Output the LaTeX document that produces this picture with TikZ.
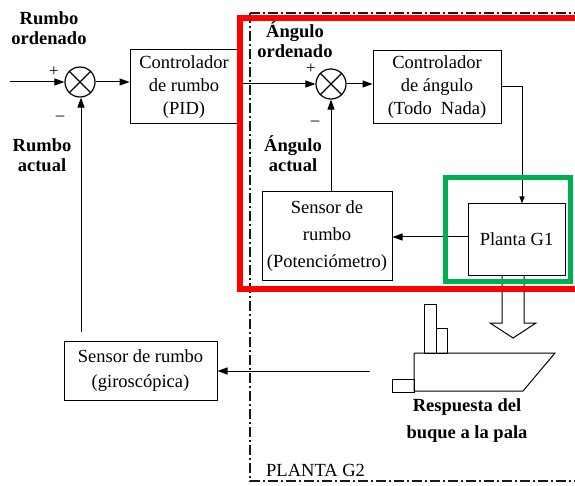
\documentclass[tikz,border=0pt]{standalone}
\usepackage{fontspec}
\setmainfont{Liberation Serif}
\newfontfamily\tnr[Ligatures=TeX]{Liberation Serif}
\usetikzlibrary{arrows.meta}
\begin{document}
\begin{tikzpicture}[x=1pt,y=-1pt,
  blk/.style={draw, line width=1pt, align=center, inner sep=0pt, font=\tnr\fontsize{18.5}{23}\selectfont},
  sumj/.style={draw, circle, line width=1.2pt, minimum size=30pt, inner sep=0pt},
  lbl/.style={font=\tnr\fontsize{18.5}{20}\bfseries\selectfont, align=center, inner sep=0pt},
  sgn/.style={font=\tnr\fontsize{17}{17}\selectfont, inner sep=0pt},
  wire/.style={line width=1pt},
  arr/.style={wire, -{Triangle[length=10pt,width=7pt]}},
  arrs/.style={wire, -{Triangle[length=7pt,width=5pt]}},
  dashdot/.style={line width=1.1pt, black!90, dash pattern=on 10pt off 3pt on 2pt off 3pt},
]
\useasboundingbox (0,0) rectangle (575,486);
\fill[white] (0,0) rectangle (575,486);

% plant G2 frame
\draw[dashdot] (250,13) -- (250,481) -- (590,481);
\draw[dashdot] (250,13) -- (590,13);
\node[anchor=west, font=\tnr\fontsize{18.5}{20}\selectfont, inner sep=0pt] (g2) at (266,470) {PLANTA G2};

% summing junctions
\node[sumj] (s1) at (80,82) {};
\draw[line width=1.2pt] (s1.45) -- (s1.225) (s1.135) -- (s1.315);
\node[sumj] (s2) at (331,84) {};
\draw[line width=1.2pt] (s2.45) -- (s2.225) (s2.135) -- (s2.315);

% blocks
\node[blk, minimum width=108pt, minimum height=74pt] (pid) at (184,87) {Controlador\\de rumbo\\(PID)};
\node[blk, minimum width=128pt, minimum height=73pt] (ctl) at (437,87.5) {Controlador\\de ángulo\\(Todo\enspace Nada)};
\node[blk, minimum width=97pt, minimum height=71pt] (pl) at (516.5,239.5) {Planta G1};
\node[blk, minimum width=130pt, minimum height=88pt, font=\tnr\fontsize{18.5}{27}\selectfont] (pot) at (327,236) {Sensor de\\rumbo\\(Potenciómetro)};
\node[blk, minimum width=153pt, minimum height=59pt, font=\tnr\fontsize{18.5}{25}\selectfont] (gyro) at (140.5,370.5) {Sensor de rumbo\\(giroscópica)};

% labels
\node[lbl] (ro) at (49,28) {Rumbo\\ordenado};
\node[lbl] (ra) at (42,155) {Rumbo\\actual};
\node[lbl] (ao) at (295,40) {Ángulo\\ordenado};
\node[lbl] (aa) at (293,154) {Ángulo\\actual};
\node[sgn] (p1) at (54,72) {+};
\node[sgn] (m1) at (60,118) {\textendash};
\node[sgn] (p2) at (311,69) {+};
\node[sgn] (m2) at (315,123) {\textendash};

% signal connections
\coordinate (in) at (10,82);
\draw[arr] (in) -- (s1.west);
\draw[arr] (s1.east) -- (s1 -| pid.west);
\draw[arr] (s2 -| pid.east) -- (s2.west);
\draw[arr] (s2.east) -- (s2 -| ctl.west);
\coordinate (cr) at (522,87);
\draw[arrs] (ctl.east |- cr) -- (cr) -- (cr |- pl.north);
\coordinate (pw) at (468,237);
\draw[arr] (pw) -- (pw -| pot.east);
\draw[arr] (s2 |- pot.north) -- (s2.south);
\coordinate (fb) at (81,332);
\draw[arr] (fb) -- (fb |- s1.south);
\coordinate (sh) at (370,371);
\draw[arr] (sh) -- (sh -| gyro.east);

% hollow arrow from the plant to the ship
\draw[wire, line join=miter] (502,275) -- (502,323) -- (490,323) -- (513,338) -- (536,323) -- (524,323) -- (524,275);

% ship
\draw[wire] (414,353) -- (555,353) -- (523,391) -- (414,391) -- cycle;
\draw[wire] (392,379) rectangle (414,392);
\draw[wire] (424,304) rectangle (436,353);
\draw[wire] (436,328) rectangle (447,353);
\node[lbl, font=\tnr\fontsize{18.5}{27}\bfseries\selectfont] (resp) at (467,421) {Respuesta del\\buque a la pala};

% highlight frames
\draw[red, line width=6pt] (240,18) rectangle (585,289);
\draw[line width=5pt, color={rgb,255:red,0;green,176;blue,80}] (445,178) rectangle (570,281);
\end{tikzpicture}
\end{document}
